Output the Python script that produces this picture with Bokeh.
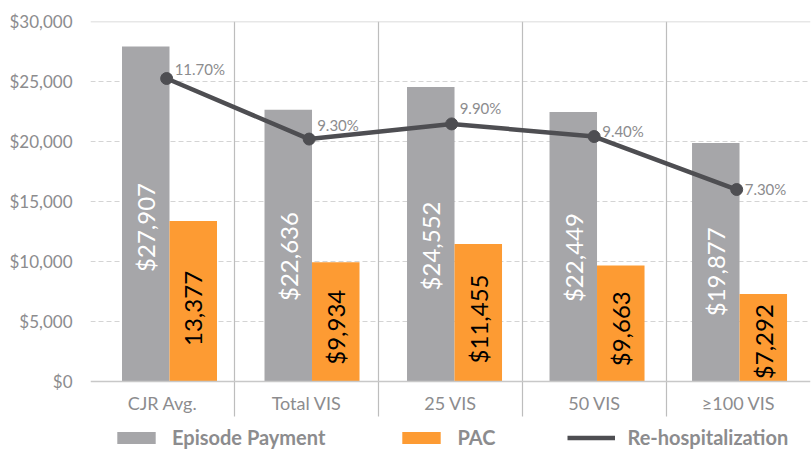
from math import pi
from bokeh.plotting import figure
from bokeh.models import (ColumnDataSource, Range1d, FixedTicker, Legend, LegendItem,
                          Span, NumeralTickFormatter)
from bokeh.embed import file_html
from bokeh.resources import INLINE
from bokeh.core.properties import value

# ---- data ----
categories = ["CJR Avg.", "Total VIS", "25 VIS", "50 VIS", "≥100 VIS"]
episode_payment = [27907, 22636, 24552, 22449, 19877]
pac = [13377, 9934, 11455, 9663, 7292]
rehosp = [11.70, 9.30, 9.90, 9.40, 7.30]
episode_labels = ["$27,907", "$22,636", "$24,552", "$22,449", "$19,877"]
pac_labels = ["13,377", "$9,934", "$11,455", "$9,663", "$7,292"]
rehosp_labels = ["11.70%", "9.30%", "9.90%", "9.40%", "7.30%"]
y_ticks = [0, 5000, 10000, 15000, 20000, 25000, 30000]

# ---- styles ----
GRAY = "#a6a6a9"
ORANGE = "#fd9b33"
DARK = "#4e4e52"
TXT = "#8c8c8e"
FONT = "Lato"
rehosp_label_dy = [-10, -14, -16, -6, -1]

# layout: plotting area 360 px tall for 0..30000, 68 px of room below the zero line
PLOT_PX = 360.0
BELOW_PX = 68.0
Y_MAX = 30000
per_px = Y_MAX / PLOT_PX
pct_lo, pct_hi = -0.31, 13.96
pct_per_px = (pct_hi - pct_lo) / PLOT_PX

n = len(categories)
idx = list(range(n))
src = ColumnDataSource(dict(
    xg=[i + 0.5 - 1 / 6 for i in idx],
    xo=[i + 0.5 + 1 / 6 for i in idx],
    xl=[i + 0.48 for i in idx],
    episode=episode_payment,
    pac=pac,
    ey=[v * 0.46 for v in episode_payment],
    py=[v * 0.455 for v in pac],
    rehosp=rehosp,
    elab=episode_labels,
    plab=pac_labels,
    rlab=rehosp_labels,
    rdy=rehosp_label_dy,
))
cat_src = ColumnDataSource(dict(x=[i + 0.5 for i in idx], y=[0] * n, label=categories))
sep = list(range(1, n))
sep_src = ColumnDataSource(dict(x=sep, y0=[Y_MAX] * len(sep), y1=[-35 * per_px] * len(sep)))

p = figure(width=812, height=449, x_range=Range1d(0, n),
           y_range=Range1d(-BELOW_PX * per_px, Y_MAX),
           output_backend="svg", toolbar_location=None,
           min_border_left=90, min_border_right=2, min_border_top=21, min_border_bottom=0)
p.outline_line_color = None
p.background_fill_color = "white"
p.border_fill_color = "white"

p.extra_x_ranges = {"bars": Range1d(-0.0544, 4.998)}
p.extra_y_ranges = {"pct": Range1d(pct_lo - BELOW_PX * pct_per_px, pct_hi)}

# grids
p.xaxis.visible = False
p.xgrid.visible = False
p.ygrid.ticker = FixedTicker(ticks=y_ticks[1:-1])
p.ygrid.grid_line_color = "#d4d4d4"
p.ygrid.grid_line_dash = "5 3"
p.ygrid.grid_line_width = 1
p.add_layout(Span(location=Y_MAX, dimension="width", line_color="#d0d0d0", line_width=1.5))

# category separators and baseline
p.segment(x0="x", y0="y0", x1="x", y1="y1", source=sep_src,
          line_color="#bdbdbd", line_width=1.2)
p.add_layout(Span(location=0, dimension="width", line_color="#c8c8c8", line_width=1.5))

# category labels
p.text(x="x", y="y", text="label", source=cat_src, y_offset=21,
       text_align="center", text_baseline="middle", text_color=TXT,
       text_font=value(FONT), text_font_size="18px")

# y axis
ya = p.yaxis[0]
ya.ticker = FixedTicker(ticks=y_ticks)
ya.formatter = NumeralTickFormatter(format="$0,0")
ya.axis_line_color = None
ya.major_tick_line_color = None
ya.minor_tick_line_color = None
ya.major_tick_out = 0
ya.major_label_standoff = 18
ya.major_label_text_font = FONT
ya.major_label_text_font_size = "17px"
ya.major_label_text_color = TXT

# bars
r_ep = p.vbar(x="xg", top="episode", width=1 / 3, source=src, x_range_name="bars",
              fill_color=GRAY, line_color=None)
r_pac = p.vbar(x="xo", top="pac", width=1 / 3, source=src, x_range_name="bars",
               fill_color=ORANGE, line_color=None)

# bar labels
p.text(x="xg", y="ey", text="elab", source=src, x_range_name="bars", angle=pi / 2,
       text_align="center", text_baseline="middle", text_color="white",
       text_font=value(FONT), text_font_size="24px")
p.text(x="xo", y="py", text="plab", source=src, x_range_name="bars", angle=pi / 2,
       text_align="center", text_baseline="middle", text_color="black",
       text_font=value(FONT), text_font_size="24px")

# line
r_line = p.line(x="xl", y="rehosp", source=src, x_range_name="bars", y_range_name="pct",
                line_color=DARK, line_width=4.5)
p.scatter(x="xl", y="rehosp", source=src, x_range_name="bars", y_range_name="pct",
          size=12, fill_color=DARK, line_color=DARK)
p.text(x="xl", y="rehosp", text="rlab", source=src, x_range_name="bars", y_range_name="pct",
       x_offset=8, y_offset="rdy", text_align="left", text_baseline="middle",
       text_color=TXT, text_font=value(FONT), text_font_size="15px")

legend = Legend(items=[LegendItem(label="Episode Payment", renderers=[r_ep]),
                       LegendItem(label="PAC", renderers=[r_pac]),
                       LegendItem(label="Re-hospitalization", renderers=[r_line])],
                location=(22, 0), orientation="horizontal",
                glyph_width=48, glyph_height=15, label_standoff=12, spacing=72,
                padding=0, margin=0, border_line_color=None, background_fill_alpha=0,
                label_text_font=FONT, label_text_font_style="bold",
                label_text_font_size="20px", label_text_color=TXT)
p.add_layout(legend, "center")

open("out.html", "w").write(file_html(p, INLINE))
